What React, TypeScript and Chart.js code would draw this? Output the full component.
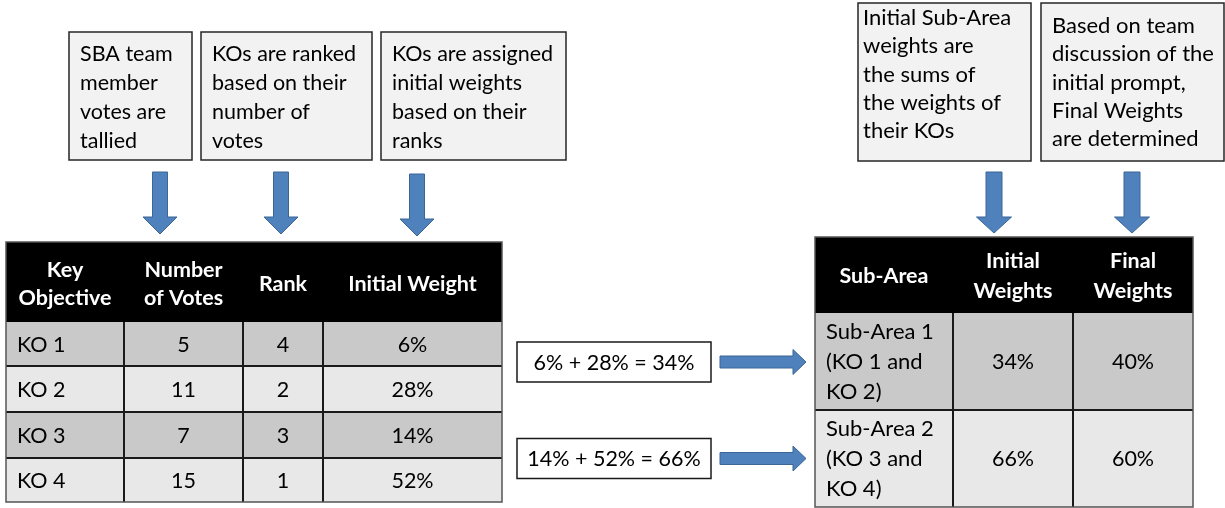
import React, { useEffect, useRef } from 'react';
import { Chart, registerables } from 'chart.js';

Chart.register(...registerables);

// ---------- DATA ----------
const stepNotesLeft: string[][] = [
  ['SBA team', 'member', 'votes are', 'tallied'],
  ['KOs are ranked', 'based on their', 'number of', 'votes'],
  ['KOs are assigned', 'initial weights', 'based on their', 'ranks'],
];
const stepNotesRight: string[][] = [
  ['Initial Sub-Area', 'weights are', 'the sums of', 'the weights of', 'their KOs'],
  ['Based on team', 'discussion of the', 'initial prompt,', 'Final Weights', 'are determined'],
];
const koHeaders: string[][] = [['Key', 'Objective'], ['Number', 'of Votes'], ['Rank'], ['Initial Weight']];
const keyObjectives = ['KO 1', 'KO 2', 'KO 3', 'KO 4'];
const votes = [5, 11, 7, 15];
const ranks = [4, 2, 3, 1];
const initialWeights = [6, 28, 14, 52];
const subHeaders: string[][] = [['Sub-Area'], ['Initial', 'Weights'], ['Final', 'Weights']];
const subAreas: string[][] = [
  ['Sub-Area 1', '(KO 1 and', 'KO 2)'],
  ['Sub-Area 2', '(KO 3 and', 'KO 4)'],
];
const subAreaKOs: number[][] = [[0, 1], [2, 3]];
const subInitialWeights = [34, 66];
const subFinalWeights = [40, 60];

// ---------- STYLE / LAYOUT ----------
const FONT = 'Lato, "Open Sans", sans-serif';
const FS = 21.5;
const ARROW_FILL = '#4f81bd';
const ARROW_STROKE = '#3b6696';
const DARK_ROW = '#c9c9c9';
const LIGHT_ROW = '#e8e8e8';
const NOTE_FILL = '#f2f2f2';

const leftNoteBoxes = [
  { x0: 69, x1: 192, pad: 11 },
  { x0: 201, x1: 372, pad: 11 },
  { x0: 381, x1: 566, pad: 11 },
];
const rightNoteBoxes = [
  { x0: 858, x1: 1031, pad: 5, first: 17 },
  { x0: 1041, x1: 1224, pad: 11, first: 25 },
];
const downArrowsLeft = [160, 281, 417];
const downArrowsRight = [994, 1132];
const koCols = [6, 124, 243, 323, 502];
const koRows = [242, 322, 366, 412, 458, 502];
const subCols = [815, 953, 1073, 1193];
const subRows = [237, 313, 410, 507];

const diagramPlugin = {
  id: 'diagram',
  beforeDraw(chart: any) {
    const c = chart.ctx;
    c.save();
    c.fillStyle = '#ffffff';
    c.fillRect(0, 0, chart.width, chart.height);
    c.restore();
  },
  afterDraw(chart: any) {
    const ctx: CanvasRenderingContext2D = chart.ctx;
    const sx = chart.scales.x;
    const sy = chart.scales.y;
    const X = (v: number) => sx.getPixelForValue(v);
    const Y = (v: number) => sy.getPixelForValue(v);

    const text = (t: string, x: number, y: number, align: CanvasTextAlign, bold = false, color = '#000', size = FS) => {
      ctx.save();
      ctx.font = `${bold ? 'bold ' : ''}${size}px ${FONT}`;
      ctx.fillStyle = color;
      ctx.textAlign = align;
      ctx.textBaseline = 'alphabetic';
      ctx.fillText(t, X(x), Y(y) + size * 0.36);
      ctx.restore();
    };
    const rect = (x0: number, y0: number, x1: number, y1: number, fill: string | null, stroke: string | null, lw = 1) => {
      const px = X(x0), py = Y(y0), w = X(x1) - px, h = Y(y1) - py;
      if (fill) { ctx.fillStyle = fill; ctx.fillRect(px, py, w, h); }
      if (stroke) { ctx.strokeStyle = stroke; ctx.lineWidth = lw; ctx.strokeRect(px, py, w, h); }
    };
    const line = (x0: number, y0: number, x1: number, y1: number, color: string, lw: number) => {
      ctx.beginPath();
      ctx.moveTo(X(x0), Y(y0));
      ctx.lineTo(X(x1), Y(y1));
      ctx.strokeStyle = color;
      ctx.lineWidth = lw;
      ctx.stroke();
    };
    const poly = (pts: number[][]) => {
      ctx.beginPath();
      pts.forEach((p, i) => (i ? ctx.lineTo(X(p[0]), Y(p[1])) : ctx.moveTo(X(p[0]), Y(p[1]))));
      ctx.closePath();
      ctx.fillStyle = ARROW_FILL;
      ctx.fill();
      ctx.strokeStyle = ARROW_STROKE;
      ctx.lineWidth = 1;
      ctx.stroke();
    };
    const downArrow = (cx: number, top: number, headY: number, tip: number, sw: number, hw: number) => {
      poly([[cx - sw, top], [cx + sw, top], [cx + sw, headY], [cx + hw, headY], [cx, tip], [cx - hw, headY], [cx - sw, headY]]);
    };
    const rightArrow = (left: number, headX: number, tip: number, cy: number, sh: number, hh: number) => {
      poly([[left, cy - sh], [headX, cy - sh], [headX, cy - hh], [tip, cy], [headX, cy + hh], [headX, cy + sh], [left, cy + sh]]);
    };

    // Note boxes (left)
    stepNotesLeft.forEach((lines, i) => {
      const b = leftNoteBoxes[i];
      rect(b.x0, 32, b.x1, 160, NOTE_FILL, '#262626', 1.5);
      lines.forEach((t, j) => text(t, b.x0 + b.pad, 53 + j * 29.2, 'left'));
    });
    // Note boxes (right)
    stepNotesRight.forEach((lines, i) => {
      const b = rightNoteBoxes[i];
      rect(b.x0, 3, b.x1, 161, NOTE_FILL, '#262626', 1.5);
      lines.forEach((t, j) => text(t, b.x0 + b.pad, b.first + j * 28.3, 'left', false, '#000', 22));
    });

    // Down arrows
    downArrowsLeft.forEach((cx, i) => {
      const d = i === 2 ? 2 : 0;
      downArrow(cx, 172 + d, 217 + d, 234 + d, 7.5, 17);
    });
    downArrowsRight.forEach((cx) => downArrow(cx, 172, 217, 233, 8, 17.5));

    // KO table
    const hx = koCols;
    rect(hx[0], koRows[0], hx[4], koRows[1], '#000000', null);
    koHeaders.forEach((lines, ci) => {
      const cx = (hx[ci] + hx[ci + 1]) / 2;
      const mid = (koRows[0] + koRows[1]) / 2 + 1;
      lines.forEach((t, j) => text(t, cx, mid + (j - (lines.length - 1) / 2) * 28, 'center', true, '#ffffff'));
    });
    keyObjectives.forEach((ko, ri) => {
      const y0 = koRows[ri + 1], y1 = koRows[ri + 2];
      rect(hx[0], y0, hx[4], y1, ri % 2 === 0 ? DARK_ROW : LIGHT_ROW, null);
      const cy = (y0 + y1) / 2;
      text(ko, hx[0] + 11, cy, 'left');
      text(String(votes[ri]), (hx[1] + hx[2]) / 2, cy, 'center');
      text(String(ranks[ri]), (hx[2] + hx[3]) / 2, cy, 'center');
      text(`${initialWeights[ri]}%`, (hx[3] + hx[4]) / 2, cy, 'center');
    });
    for (let r = 2; r < koRows.length - 1; r++) line(hx[0], koRows[r], hx[4], koRows[r], '#1a1a1a', 2);
    for (let cI = 1; cI < hx.length - 1; cI++) line(hx[cI], koRows[1], hx[cI], koRows[koRows.length - 1], '#1a1a1a', 2);
    rect(hx[0], koRows[0], hx[4], koRows[koRows.length - 1], null, '#555555', 1.5);

    // Sum boxes + right arrows
    subAreaKOs.forEach((kos, i) => {
      const cy = 362 + i * 96.5;
      rect(517, cy - 20, 711, cy + 20, '#ffffff', '#1a1a1a', 1.5);
      const label = `${kos.map((k) => initialWeights[k] + '%').join(' + ')} = ${subInitialWeights[i]}%`;
      text(label, 614, cy, 'center');
      rightArrow(720, 793, 806, cy, 6, 12.5);
    });

    // Sub-area table
    const sc = subCols;
    rect(sc[0], subRows[0], sc[3], subRows[1], '#000000', null);
    subHeaders.forEach((lines, ci) => {
      const cx = (sc[ci] + sc[ci + 1]) / 2;
      const mid = (subRows[0] + subRows[1]) / 2;
      lines.forEach((t, j) => text(t, cx, mid + (j - (lines.length - 1) / 2) * 30, 'center', true, '#ffffff'));
    });
    subAreas.forEach((lines, ri) => {
      const y0 = subRows[ri + 1], y1 = subRows[ri + 2];
      rect(sc[0], y0, sc[3], y1, ri % 2 === 0 ? DARK_ROW : LIGHT_ROW, null);
      const cy = (y0 + y1) / 2;
      lines.forEach((t, j) => text(t, sc[0] + 11, cy + (j - 1) * 30, 'left', false, '#000', 22));
      text(`${subInitialWeights[ri]}%`, (sc[1] + sc[2]) / 2, cy, 'center');
      text(`${subFinalWeights[ri]}%`, (sc[2] + sc[3]) / 2, cy, 'center');
    });
    line(sc[0], subRows[2], sc[3], subRows[2], '#1a1a1a', 2);
    for (let cI = 1; cI < sc.length - 1; cI++) line(sc[cI], subRows[1], sc[cI], subRows[3], '#1a1a1a', 2);
    rect(sc[0], subRows[0], sc[3], subRows[3], null, '#555555', 1.5);
  },
};

export default function App() {
  const ref = useRef<HTMLCanvasElement | null>(null);
  useEffect(() => {
    document.body.style.margin = '0';
    if (!ref.current) return;
    const chart = new Chart(ref.current, {
      type: 'scatter',
      data: { datasets: [] },
      options: {
        animation: false,
        responsive: true,
        maintainAspectRatio: false,
        layout: { padding: 0 },
        plugins: { legend: { display: false }, tooltip: { enabled: false } },
        scales: {
          x: { type: 'linear', min: 0, max: 1225, display: false },
          y: { type: 'linear', min: 0, max: 508, reverse: true, display: false },
        },
      },
      plugins: [diagramPlugin],
    });
    return () => chart.destroy();
  }, []);
  return (
    <div style={{ position: 'absolute', left: 0, top: 0, width: 1225, height: 508 }}>
      <canvas ref={ref} />
    </div>
  );
}
